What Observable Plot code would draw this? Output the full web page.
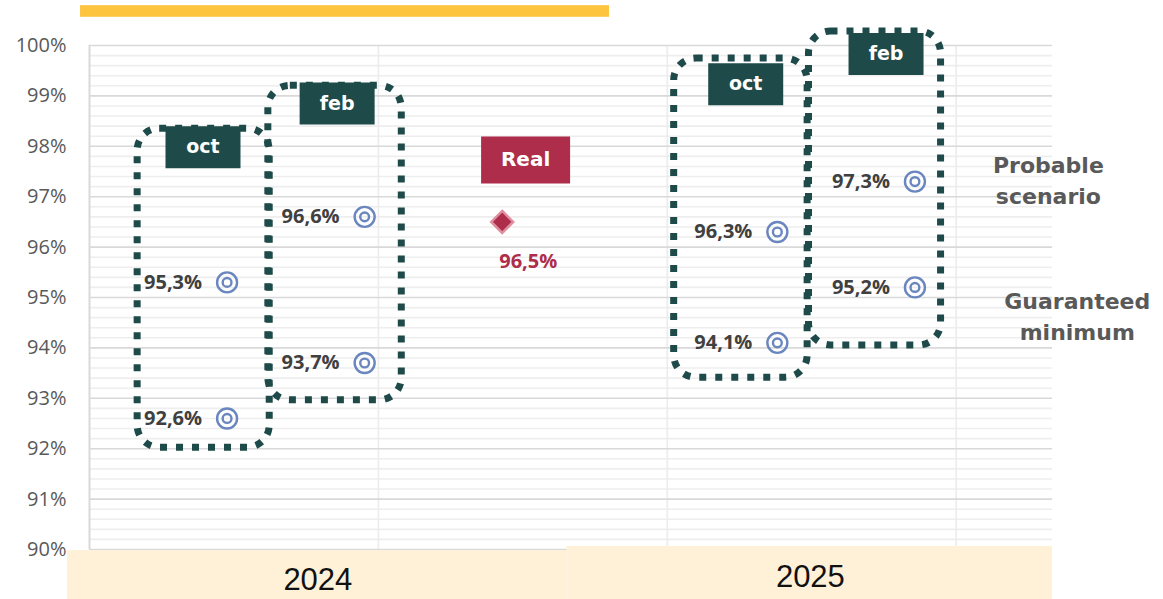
<!DOCTYPE html>
<html><head><meta charset="utf-8">
<script src="https://cdn.jsdelivr.net/npm/d3@7"></script>
<script src="https://cdn.jsdelivr.net/npm/@observablehq/plot@0.6"></script>
<style>body{margin:0;background:#fff;} #chart{width:1163px;height:599px;}</style>
</head><body><div id="chart"></div>
<script>
// ---- data ----
const yTicks = [90, 91, 92, 93, 94, 95, 96, 97, 98, 99, 100];
const periodLabels = ["oct", "feb", "oct", "feb"];
const periodYears = ["2024", "2024", "2025", "2025"];
const periodX = [1, 2, 5, 6];
const probable = [95.3, 96.6, 96.3, 97.3];
const guaranteed = [92.6, 93.7, 94.1, 95.2];
const realLabel = ["Real"];
const realX = [3];
const realValue = [96.5];
// annotation boxes (data units)
const boxX1 = [0.35, 1.30, 4.25, 5.23];
const boxX2 = [1.31, 2.27, 5.22, 6.19];
const boxTop = [98.35, 99.20, 99.74, 100.28];
const boxBottom = [92.02, 92.96, 93.41, 94.05];
const tagX = [0.825, 1.80, 4.77, 5.79];
const tagY = [97.98, 98.85, 99.23, 99.83];
const realTagX = [3.17];
const realTagY = [97.73];
const years = ["2024", "2025"];
const yearX1 = [-0.16, 3.47];
const yearX2 = [3.47, 7.0];
const yearTop = [89.98, 90.06];
const yearLabelX = [1.66, 5.24];
const yearLabelY = [89.39, 89.46];
const sideLabels = ["Probable\nscenario", "Guaranteed\nminimum"];
const sideX = [6.97, 7.18];
const sideY = [97.36, 94.66];
const titleBar = [{x1: -0.065, x2: 3.78, y1: 100.56, y2: 100.79}];
const gridX = [2.1, 4.2, 6.3];

// ---- tables ----
const fmt = v => v.toFixed(1).replace(".", ",") + "%";
const points = [];
periodX.forEach((x, i) => {
  points.push({x, y: probable[i], kind: "probable"});
  points.push({x, y: guaranteed[i], kind: "guaranteed"});
});
const boxes = boxX1.map((x1, i) => ({x1, x2: boxX2[i], y1: boxBottom[i], y2: boxTop[i]}));
const tags = periodLabels.map((t, i) => ({t, x: tagX[i], y: tagY[i], year: periodYears[i]}));
const real = realX.map((x, i) => ({x, y: realValue[i]}));
const realTags = realLabel.map((t, i) => ({t, x: realTagX[i], y: realTagY[i]}));
const bands = years.map((t, i) => ({t, x1: yearX1[i], x2: yearX2[i], y1: 89.0, y2: yearTop[i], lx: yearLabelX[i], ly: yearLabelY[i]}));
const sides = sideLabels.map((t, i) => ({t, x: sideX[i], y: sideY[i]}));
const minor = d3.range(51).map(i => 90 + i * 0.2).filter((d, i) => i % 5 !== 0);

const rectSym = (w, h) => ({draw(ctx) { ctx.rect(-w / 2, -h / 2, w, h); }});
const diamondSym = {draw(ctx) { const r = 11; ctx.moveTo(0, -r); ctx.lineTo(r, 0); ctx.lineTo(0, r); ctx.lineTo(-r, 0); ctx.closePath(); }};

const TEAL = "#1f4a4a", RED = "#ad2d4a", BLUE = "#6a86bf";

const chart = Plot.plot({
  width: 1163, height: 599,
  marginLeft: 89, marginRight: 111, marginTop: 45, marginBottom: 50,
  x: {domain: [0, 7], axis: null},
  y: {domain: [90, 100], axis: null},
  style: {fontFamily: "Open Sans", background: "#fff"},
  marks: [
    Plot.rect(titleBar, {x1: "x1", x2: "x2", y1: "y1", y2: "y2", fill: "#fcc43f"}),
    Plot.ruleY(minor, {x1: 0, x2: 7, stroke: "#eeeeee", strokeWidth: 1.6}),
    Plot.ruleX(gridX, {y1: 90, y2: 100, stroke: "#ececec", strokeWidth: 1.6}),
    Plot.ruleY(yTicks, {x1: 0, x2: 7, stroke: "#d9d9d9", strokeWidth: 1.6}),
    Plot.ruleX([0], {y1: 90, y2: 100, stroke: "#d9d9d9", strokeWidth: 2}),
    Plot.rect(bands, {x1: "x1", x2: "x2", y1: "y1", y2: "y2", fill: "#fff1d8"}),
    Plot.text(bands, {x: "lx", y: "ly", text: "t", fontFamily: "Liberation Sans", fontSize: 31, fill: "#111"}),
    Plot.text(yTicks, {x: 0, y: d => d, text: d => d + "%", textAnchor: "end", dx: -23, fontSize: 20, fill: "#595959"}),
    Plot.rect(boxes, {x1: "x1", x2: "x2", y1: "y1", y2: "y2", rx: 22, fill: "none", stroke: TEAL, strokeWidth: 7, strokeDasharray: "7 9"}),
    Plot.dot(tags, {x: "x", y: "y", symbol: rectSym(75, 42), r: 10, fill: TEAL, stroke: "none"}),
    Plot.text(tags, {x: "x", y: "y", text: "t", fill: "#fff", fontFamily: "DejaVu Sans", fontWeight: "bold", fontSize: 19}),
    Plot.dot(realTags, {x: "x", y: "y", symbol: rectSym(89, 47), r: 10, fill: RED, stroke: "none"}),
    Plot.text(realTags, {x: "x", y: "y", text: "t", fill: "#fff", fontFamily: "DejaVu Sans", fontWeight: "bold", fontSize: 20}),
    Plot.dot(points, {x: "x", y: "y", r: 10, stroke: BLUE, strokeWidth: 2.4, fill: "none"}),
    Plot.dot(points, {x: "x", y: "y", r: 4.4, stroke: BLUE, strokeWidth: 2.4, fill: "none"}),
    Plot.text(points, {x: "x", y: "y", text: d => fmt(d.y), textAnchor: "end", dx: -25, fontWeight: "bold", fontSize: 20, fill: "#404040"}),
    Plot.dot(real, {x: "x", y: "y", symbol: diamondSym, r: 10, fill: RED, stroke: "#de8e9f", strokeWidth: 2.5}),
    Plot.text(real, {x: "x", y: "y", text: d => fmt(d.y), dx: 26, dy: 40, fontWeight: "bold", fontSize: 20, fill: RED}),
    Plot.text(sides, {x: "x", y: "y", text: "t", lineHeight: 1.4, fontFamily: "DejaVu Sans", fontWeight: "bold", fontSize: 22, fill: "#595959"})
  ]
});
document.getElementById("chart").appendChild(chart);
</script></body></html>
